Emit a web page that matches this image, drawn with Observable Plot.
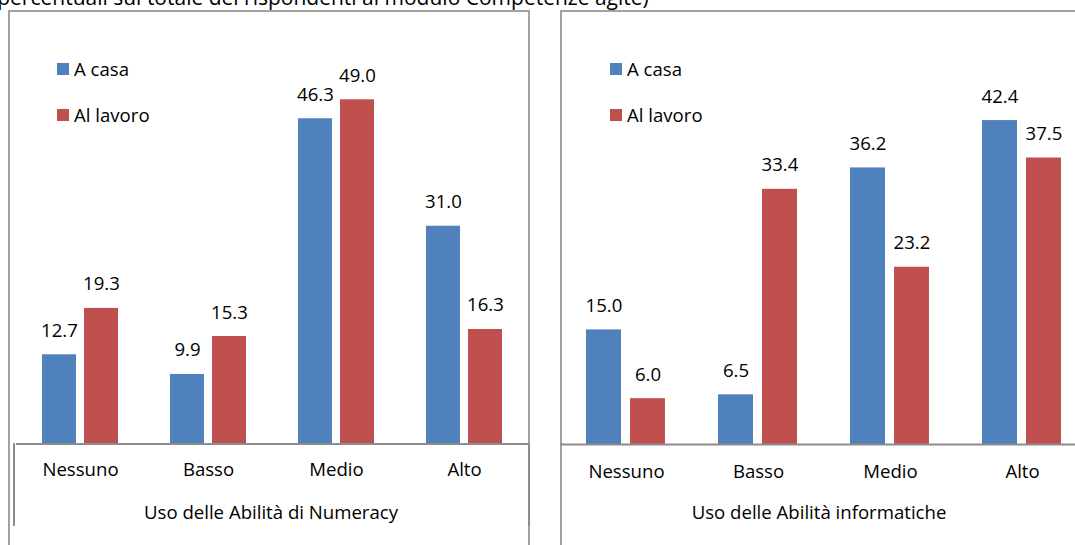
<!DOCTYPE html>
<html>
<head>
<meta charset="utf-8">
<script src="https://cdn.jsdelivr.net/npm/d3@7"></script>
<script src="https://cdn.jsdelivr.net/npm/@observablehq/plot@0.6"></script>
<style>
  html, body { margin: 0; padding: 0; background: #fff; }
  body { width: 1075px; height: 545px; overflow: hidden; position: relative;
         font-family: "Open Sans", sans-serif; color: #000; }
  .box { position: absolute; border: 2px solid #a2a2a2; box-sizing: border-box; }
  .bracket { position: absolute; border-left: 2px solid #8c8c8c; border-right: 2px solid #8c8c8c; box-sizing: border-box; }
  .note { position: absolute; left: -9px; top: -13px; font-size: 21px; line-height: 21px; white-space: nowrap; }
  .title { position: absolute; font-size: 18.6px; line-height: 18px; white-space: nowrap; transform: translateX(-50%); }
  .legend-row { position: absolute; display: flex; align-items: center; height: 18px; font-size: 18.6px; line-height: 18px; white-space: nowrap; }
  .swatch { width: 12px; height: 12px; margin-right: 5px; flex: none; }
  .chart { position: absolute; top: 0; }
  .chart svg { max-width: none; }
</style>
</head>
<body>
<div class="note">(percentuali sul totale dei rispondenti al modulo Competenze agite)</div>
<script>
// Livelli di uso delle abilità e luogo di utilizzo
const categories = ["Nessuno", "Basso", "Medio", "Alto"];
const series = ["A casa", "Al lavoro"];
const colors = ["#4F81BD", "#C0504D"];

// Uso delle Abilità di Numeracy (%)
const numeracyCasa = [12.7, 9.9, 46.3, 31.0];
const numeracyLavoro = [19.3, 15.3, 49.0, 16.3];

// Uso delle Abilità informatiche (%)
const informaticaCasa = [15.0, 6.5, 36.2, 42.4];
const informaticaLavoro = [6.0, 33.4, 23.2, 37.5];

const panelTitles = ["Uso delle Abilità di Numeracy", "Uso delle Abilità informatiche"];

function addDiv(cls, styles, text) {
  const el = document.createElement("div");
  el.className = cls;
  Object.assign(el.style, styles);
  if (text != null) el.textContent = text;
  document.body.appendChild(el);
  return el;
}

function legend(left, top) {
  series.forEach((s, i) => {
    const row = addDiv("legend-row", {left: left + "px", top: (top + i * 46) + "px"});
    const sw = document.createElement("div");
    sw.className = "swatch";
    sw.style.background = colors[i];
    row.appendChild(sw);
    row.appendChild(document.createTextNode(s));
  });
}

function panel({casa, lavoro, left, width, marginLeft, marginRight, marginTop, baseline, yMax, tickPadding}) {
  const rows = categories.flatMap((c, i) => [
    {categoria: c, serie: series[0], valore: casa[i]},
    {categoria: c, serie: series[1], valore: lavoro[i]}
  ]);
  const marginBottom = 60;
  const height = baseline + marginBottom;
  const chart = Plot.plot({
    width,
    height,
    marginLeft, marginRight, marginTop, marginBottom,
    style: {fontFamily: '"Open Sans", sans-serif', fontSize: "18.6px", color: "#000", background: "none", overflow: "visible"},
    fx: {domain: categories, padding: 0, label: null, axis: "bottom", tickSize: 0, tickPadding},
    x: {domain: series, axis: null, paddingInner: 0.2, paddingOuter: 0.6},
    y: {domain: [0, yMax], axis: null},
    color: {domain: series, range: colors},
    marks: [
      Plot.barY(rows, {fx: "categoria", x: "serie", y: "valore", fill: "serie"}),
      Plot.text(rows, {fx: "categoria", x: "serie", y: "valore", text: d => d.valore.toFixed(1),
                       lineAnchor: "bottom", dy: -18, fill: "#000"}),
      Plot.ruleY([0], {stroke: "#8c8c8c", strokeWidth: 2})
    ]
  });
  const wrap = addDiv("chart", {left: left + "px", width: width + "px", height: height + "px"});
  wrap.appendChild(chart);
}

// Cornici dei due grafici
addDiv("box", {left: "8px", top: "10px", width: "522px", height: "600px"});
addDiv("box", {left: "560px", top: "10px", width: "600px", height: "600px"});
// Staffe dell'asse delle categorie
addDiv("bracket", {left: "13px", top: "443px", width: "517px", height: "83px"});

panel({casa: numeracyCasa, lavoro: numeracyLavoro, left: 0, width: 530,
       marginLeft: 15, marginRight: 1, marginTop: 22, baseline: 443.5, yMax: 60, tickPadding: 19});
panel({casa: informaticaCasa, lavoro: informaticaLavoro, left: 538, width: 552,
       marginLeft: 21, marginRight: 2, marginTop: 62, baseline: 444, yMax: 50, tickPadding: 20});

addDiv("title", {left: "271px", top: "503px"}, panelTitles[0]);
addDiv("title", {left: "819px", top: "503px"}, panelTitles[1]);

legend(57, 60);
legend(610, 60);
</script>
</body>
</html>
